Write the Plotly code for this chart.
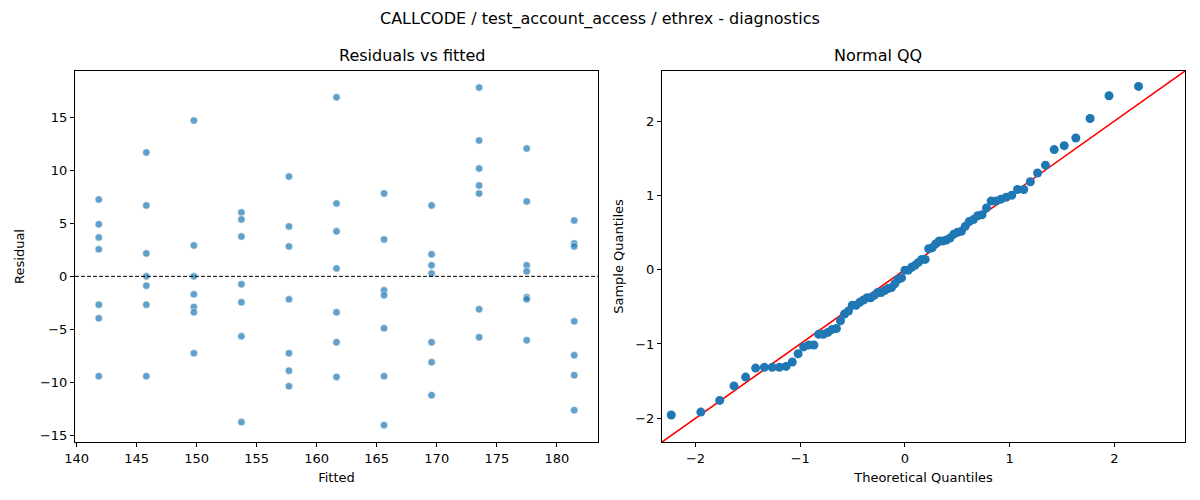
import numpy as np
import plotly.graph_objects as go
from statistics import NormalDist

# fitted value of each group
fitted_levels = [141.85, 145.81, 149.77, 153.73, 157.69, 161.65,
                 165.61, 169.57, 173.53, 177.49, 181.45]

# residuals per fitted group, top to bottom
resid_groups = [
    [7.26, 4.91, 3.68, 2.55, -2.68, -3.96, -9.43],
    [11.70, 6.70, 2.17, 0.0, -0.88, -2.68, -9.43],
    [14.72, 2.92, 0.0, -1.70, -2.90, -3.40, -7.26],
    [6.04, 5.38, 3.77, -0.75, -2.45, -5.66, -13.77],
    [9.43, 4.72, 2.83, -2.17, -7.26, -8.91, -10.38],
    [16.92, 6.89, 4.25, 0.75, -3.40, -6.23, -9.50],
    [7.83, 3.49, -1.32, -1.79, -4.91, -9.43, -14.06],
    [6.70, 2.08, 1.04, 0.28, -6.23, -8.11, -11.23],
    [17.83, 12.83, 10.19, 8.58, 7.83, -3.11, -5.75],
    [12.08, 7.08, 1.04, 0.47, -1.98, -2.17, -6.04],
    [5.28, 3.11, 2.83, -4.25, -7.45, -9.34, -12.64],
]

fitted = []
resid = []
for f, grp in zip(fitted_levels, resid_groups):
    for r in grp:
        fitted.append(f)
        resid.append(r)

# normal QQ from the same residuals (standardised, positions i/(n+1))
res_arr = np.array(resid)
n = len(res_arr)
sample_q = np.sort((res_arr - res_arr.mean()) / res_arr.std())
theo_q = np.array([NormalDist().inv_cdf(i / (n + 1)) for i in range(1, n + 1)])

qq_lim = [-2.32, 2.675]

# page has an 8px body margin, so place everything 8px up/left
OFF = 8
W, H = 1200, 500


def px_x(a, b):
    return [(a - OFF) / W, (b - OFF) / W]


y_dom = [(H - (442 - OFF)) / H, (H - (71 - OFF)) / H]

fig = go.Figure()

fig.add_trace(go.Scatter(
    x=fitted, y=resid, mode="markers",
    marker=dict(color="rgba(31,119,180,0.7)", size=7.5,
                line=dict(color="white", width=0.6)),
    xaxis="x", yaxis="y", showlegend=False,
))
fig.add_trace(go.Scatter(
    x=qq_lim, y=qq_lim, mode="lines",
    line=dict(color="red", width=1.6),
    xaxis="x2", yaxis="y2", showlegend=False,
))
fig.add_trace(go.Scatter(
    x=theo_q, y=sample_q, mode="markers",
    marker=dict(color="#1f77b4", size=9, line=dict(width=0)),
    xaxis="x2", yaxis="y2", showlegend=False,
))

axis_style = dict(
    showline=True, linecolor="black", linewidth=1, mirror=True,
    ticks="outside", ticklen=4, tickcolor="black", tickwidth=1,
    showgrid=False, zeroline=False, automargin=False,
    tickfont=dict(family="DejaVu Sans", size=13, color="black"),
)
title_font = dict(family="DejaVu Sans", size=13, color="black")

fig.update_layout(
    width=W, height=H,
    margin=dict(l=0, r=0, t=0, b=0),
    paper_bgcolor="white", plot_bgcolor="white",
    font=dict(family="DejaVu Sans", color="black"),
    xaxis=dict(domain=px_x(75, 598), range=[139.87, 183.43],
               dtick=5, tick0=140,
               title=dict(text="Fitted", font=title_font, standoff=8),
               **axis_style),
    yaxis=dict(domain=y_dom, range=[-15.65, 19.4],
               dtick=5, tick0=0,
               title=dict(text="Residual", font=title_font, standoff=12),
               **axis_style),
    xaxis2=dict(domain=px_x(662, 1185), range=qq_lim,
                dtick=1, tick0=0, anchor="y2",
                title=dict(text="Theoretical Quantiles", font=title_font, standoff=8),
                **axis_style),
    yaxis2=dict(domain=y_dom, range=qq_lim,
                dtick=1, tick0=0, anchor="x2",
                title=dict(text="Sample Quantiles", font=title_font, standoff=8),
                **axis_style),
    shapes=[dict(type="line", xref="x domain", yref="y", x0=0, x1=1, y0=0, y1=0,
                 line=dict(color="black", width=1, dash="4px,2px"))],
    annotations=[
        dict(text="CALLCODE / test_account_access / ethrex - diagnostics",
             x=(600 - OFF) / W, y=(H - (19 - OFF)) / H, xref="paper", yref="paper",
             yanchor="middle", showarrow=False,
             font=dict(family="DejaVu Sans", size=16)),
        dict(text="Residuals vs fitted", x=(336.5 - OFF) / W, y=(H - (56 - OFF)) / H,
             xref="paper", yref="paper", yanchor="middle", showarrow=False,
             font=dict(family="DejaVu Sans", size=16)),
        dict(text="Normal QQ", x=(923.5 - OFF) / W, y=(H - (56 - OFF)) / H,
             xref="paper", yref="paper", yanchor="middle", showarrow=False,
             font=dict(family="DejaVu Sans", size=16)),
    ],
)

fig.write_html("out.html")
